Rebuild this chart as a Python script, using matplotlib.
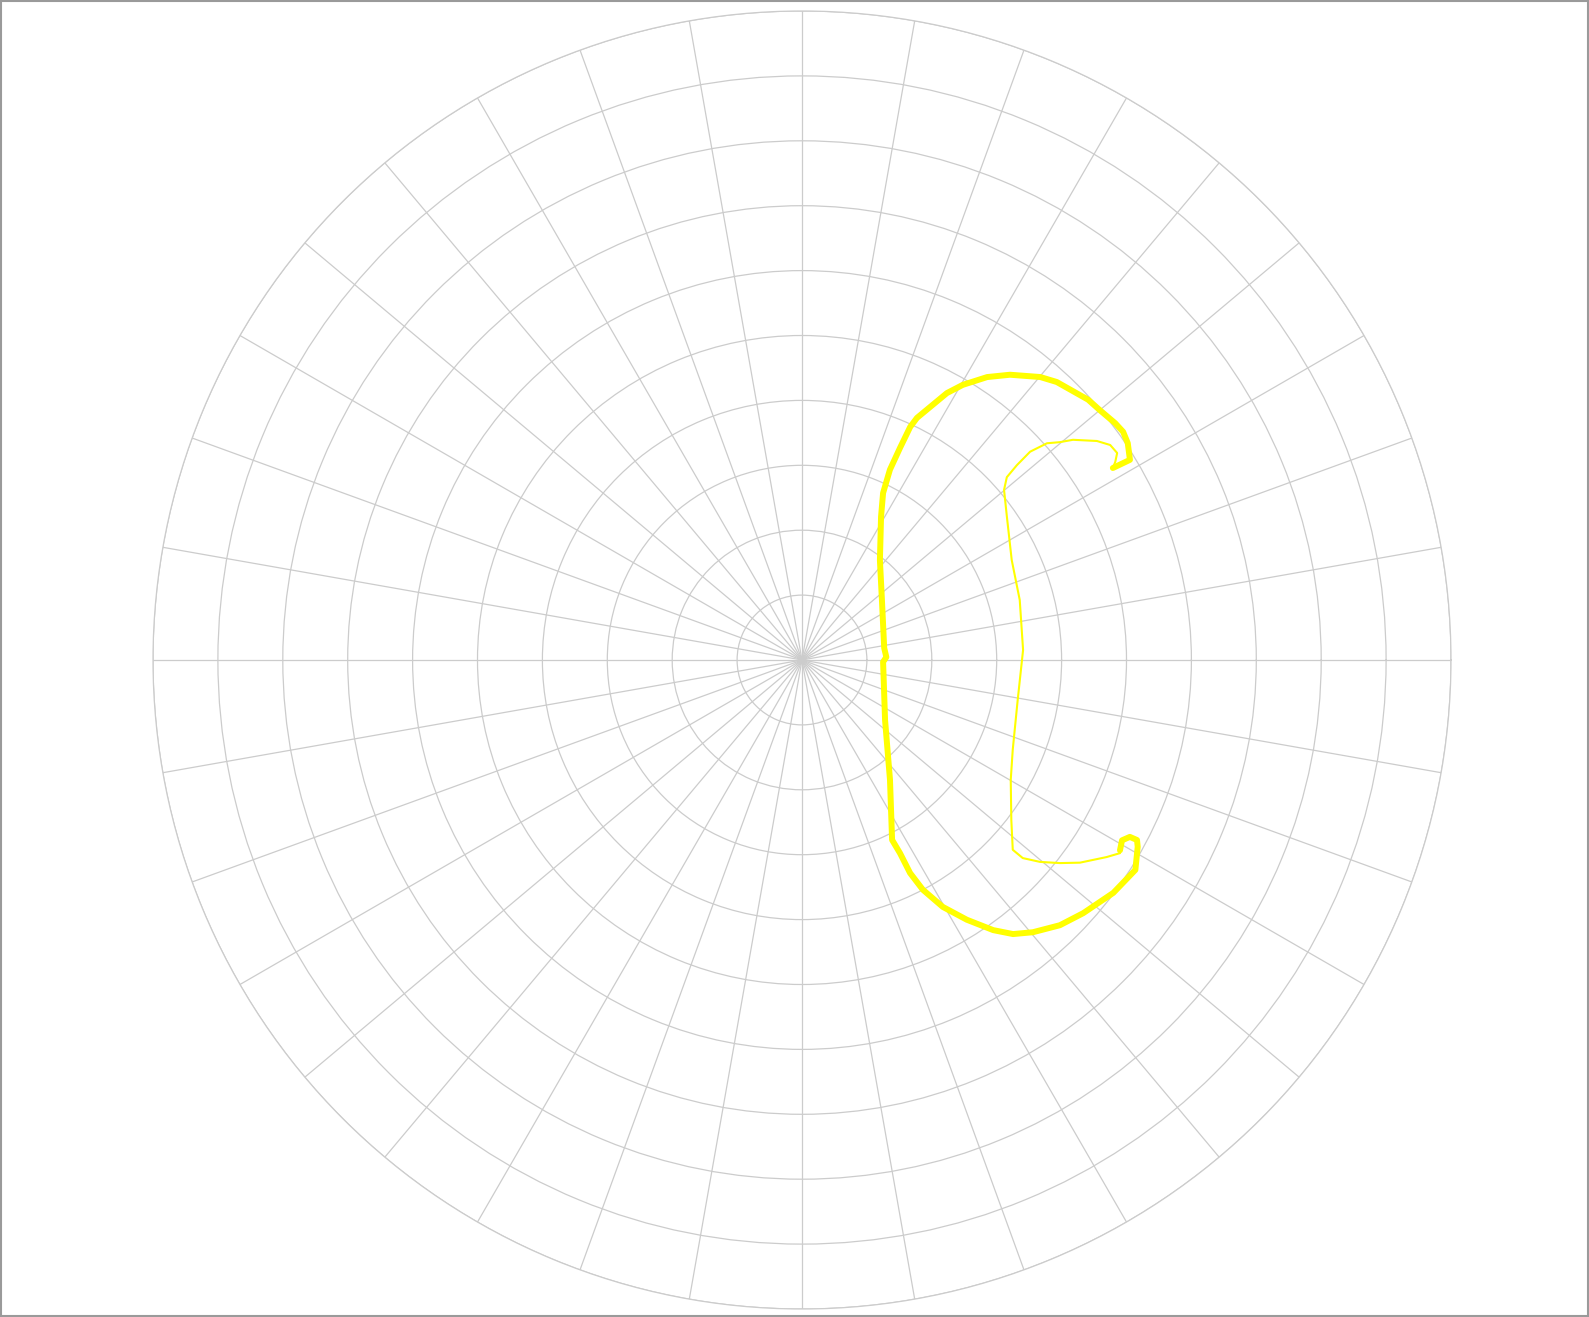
import numpy as np
import matplotlib
matplotlib.use("Agg")
import matplotlib.pyplot as plt
from matplotlib.patches import Rectangle

# Thick trace (theta in degrees, r in ring units)
thick_theta = [31.7, 31.4, 33.65, 35.4, 37.1, 40.0, 42.3, 47.5, 49.9, 53.9, 56.8, 59.7,
               61.5, 64.6, 65.1, 65.2, 65.2, 64.1, 61.1, 52.0, 36.9, 8.3, 2.0, -1.4,
               -35.9, -53.7, -63.4, -63.1, -63.1, -62.25, -60.3, -57.6, -54.7, -52.4,
               -49.7, -45.8, -42.0, -36.8, -32.2, -29.1, -28.25, -28.35, -29.4, -30.9]
thick_r = [5.63, 5.92, 6.03, 6.07, 6.05, 5.99, 5.96, 5.81, 5.70, 5.44, 5.21, 4.91,
           4.68, 4.13, 3.96, 3.60, 3.23, 2.86, 2.52, 1.95, 1.54, 1.28, 1.30, 1.25,
           1.58, 2.29, 3.10, 3.34, 3.68, 4.00, 4.38, 4.74, 5.10, 5.33,
           5.50, 5.70, 5.83, 5.99, 6.07, 5.92, 5.86, 5.74, 5.66, 5.71]

# Thin trace
thin_theta = [31.7, 32.3, 33.3, 34.9, 36.6, 39.1, 40.2, 41.5, 42.4, 42.2, 41.75, 40.1,
              34.9, 25.5, 15.4, 2.6, -10.5, -23.1, -29.9, -37.4, -42.0, -41.9, -40.3,
              -38.2, -36.1, -32.9, -31.3]
thin_r = [5.63, 5.71, 5.81, 5.79, 5.66, 5.38, 5.20, 5.04, 4.76, 4.47, 4.23, 4.07,
          3.85, 3.58, 3.48, 3.41, 3.38, 3.53, 3.71, 4.06, 4.37, 4.57, 4.81,
          5.06, 5.30, 5.59, 5.73]

radial_ticks = list(range(1, 11))
angular_ticks = list(range(0, 360, 10))

W, H = 1589, 1317
fig = plt.figure(figsize=(W / 100, H / 100), dpi=100)
fig.patch.set_facecolor("white")

cx, cy, R = 802, 660, 649
ax = fig.add_axes([(cx - R) / W, (H - cy - R) / H, 2 * R / W, 2 * R / H], projection="polar")
ax.set_facecolor("white")
ax.set_ylim(0, 10)
ax.set_yticks(radial_ticks)
ax.set_xticks(np.deg2rad(angular_ticks))
ax.set_yticklabels([])
ax.set_xticklabels([])
ax.grid(True, color="#cccccc", linewidth=0.9)
ax.spines["polar"].set_color("#cccccc")
ax.spines["polar"].set_linewidth(0.9)
ax.tick_params(length=0)

ax.plot(np.deg2rad(thick_theta), thick_r, color="#ffff00", linewidth=4.3,
        solid_joinstyle="round", solid_capstyle="round", zorder=3)
ax.plot(np.deg2rad(thin_theta), thin_r, color="#ffff00", linewidth=1.5,
        solid_joinstyle="round", zorder=3)

fig.patches.append(Rectangle((0.0005, 0.0005), 0.999, 0.999, transform=fig.transFigure,
                             fill=False, edgecolor="#9a9a9a", linewidth=1.5))

fig.savefig("out.png", dpi=100, facecolor="white")
